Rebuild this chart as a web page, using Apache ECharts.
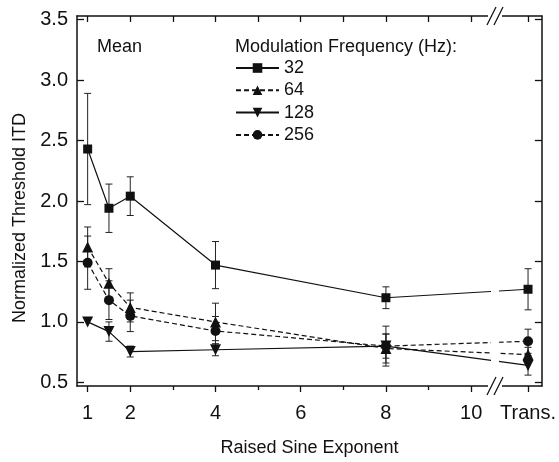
<!DOCTYPE html>
<html>
<head>
<meta charset="utf-8">
<script src="https://cdn.jsdelivr.net/npm/echarts@6/dist/echarts.min.js"></script>
<style>
  html, body { margin: 0; padding: 0; background: #fff; }
  #chart { width: 559px; height: 462px; }
</style>
</head>
<body>
<div id="chart"></div>
<script>
// x position used for the "Trans." condition (after the axis break)
const TRANS = 11.335;
const exponents = [1, 1.5, 2, 4, 8, TRANS];

// tick positions / labels
const xLabelValues = [1, 2, 4, 6, 8, 10, TRANS];
const xMinorValues = [3, 5, 7, 9];
const xTopTickValues = [1, 2, 3, 4, 5, 6, 7, 8, 9, 10, TRANS];
const yTickValues = [0.5, 1.0, 1.5, 2.0, 2.5, 3.0, 3.5];

// means and error bars per modulation frequency
const mean32 = [2.43, 1.94, 2.04, 1.47, 1.20, 1.27];
const err32 = [0.46, 0.20, 0.16, 0.195, 0.09, 0.17];
const mean64 = [1.62, 1.32, 1.12, 1.00, 0.78, 0.73];
const err64 = [0.165, 0.12, 0.12, 0.155, 0.12, 0.06];
const mean128 = [1.00, 0.92, 0.755, 0.77, 0.80, 0.64];
const err128 = [0, 0.08, 0.045, 0.05, 0.10, 0.08];
const mean256 = [1.49, 1.18, 1.05, 0.925, 0.80, 0.84];
const err256 = [0.22, 0.16, 0.13, 0.12, 0.165, 0.10];

const INK = '#111';
const FONT = '"Liberation Sans", Arial, sans-serif';

const groups = [
  { name: '32', mean: mean32, err: err32, symbol: 'rect', size: 9, dashed: false },
  { name: '64', mean: mean64, err: err64, symbol: 'triangle', size: 11, dashed: true },
  { name: '128', mean: mean128, err: err128, symbol: 'path://M0,0 L10,0 L5,9 Z', size: 11, dashed: false },
  { name: '256', mean: mean256, err: err256, symbol: 'circle', size: 10, dashed: true }
];

const chart = echarts.init(document.getElementById('chart'));

const series = [];
groups.forEach(g => {
  // error bars (behind the markers)
  series.push({
    type: 'custom',
    name: 'err' + g.name,
    silent: true,
    z: 2,
    encode: { x: 0, y: [1, 2] },
    data: exponents.map((x, i) => [x, g.mean[i] - g.err[i], g.mean[i] + g.err[i]]),
    renderItem: (params, api) => {
      const x = api.value(0);
      const lo = api.coord([x, api.value(1)]);
      const hi = api.coord([x, api.value(2)]);
      if (Math.abs(hi[1] - lo[1]) < 1) return null;
      const st = { stroke: '#222', lineWidth: 1 };
      return {
        type: 'group',
        children: [
          { type: 'line', shape: { x1: lo[0], y1: lo[1], x2: hi[0], y2: hi[1] }, style: st },
          { type: 'line', shape: { x1: hi[0] - 3.5, y1: hi[1], x2: hi[0] + 3.5, y2: hi[1] }, style: st },
          { type: 'line', shape: { x1: lo[0] - 3.5, y1: lo[1], x2: lo[0] + 3.5, y2: lo[1] }, style: st }
        ]
      };
    }
  });
  series.push({
    type: 'line',
    name: g.name,
    z: 3,
    data: exponents.map((x, i) => [x, g.mean[i]]),
    symbol: g.symbol,
    symbolSize: g.size,
    showAllSymbol: true,
    itemStyle: { color: INK },
    lineStyle: { color: INK, width: 1.2, type: g.dashed ? [5, 3] : 'solid' }
  });
});

const xBase = { type: 'value', min: 0.75, max: 11.66, splitLine: { show: false } };

const option = {
  animation: false,
  backgroundColor: '#fff',
  grid: { left: 77, right: 16, top: 16, bottom: 68 },
  legend: {
    data: groups.map(g => g.name),
    orient: 'vertical',
    left: 235,
    top: 59,
    padding: 0,
    itemWidth: 43,
    itemHeight: 12,
    itemGap: 4.3,
    selectedMode: false,
    textStyle: { fontSize: 18, lineHeight: 18, color: INK, fontFamily: FONT }
  },
  xAxis: [
    Object.assign({}, xBase, {
      position: 'bottom',
      name: 'Raised Sine Exponent',
      nameLocation: 'middle',
      nameGap: 53,
      nameTextStyle: { fontSize: 18, color: INK, fontFamily: FONT },
      axisLine: { lineStyle: { color: INK, width: 1.5 } },
      axisTick: { customValues: xLabelValues, length: 6, lineStyle: { color: INK, width: 1.3 } },
      axisLabel: {
        customValues: xLabelValues,
        margin: 17,
        fontSize: 20,
        color: INK,
        fontFamily: FONT,
        formatter: v => (v > 10.5 ? 'Trans.' : String(v))
      }
    }),
    Object.assign({}, xBase, {
      position: 'bottom',
      axisLine: { show: false },
      axisTick: { customValues: xMinorValues, length: 4, lineStyle: { color: INK, width: 1.3 } },
      axisLabel: { show: false }
    }),
    Object.assign({}, xBase, {
      position: 'top',
      axisLine: { lineStyle: { color: INK, width: 1.5 } },
      axisTick: { customValues: xTopTickValues, inside: true, length: 6, lineStyle: { color: INK, width: 1.3 } },
      axisLabel: { show: false }
    })
  ],
  yAxis: [
    {
      type: 'value',
      position: 'left',
      min: 0.47,
      max: 3.53,
      splitLine: { show: false },
      axisLine: { show: true, lineStyle: { color: INK, width: 1.5 } },
      axisTick: { customValues: yTickValues, inside: true, length: 7, lineStyle: { color: INK, width: 1.3 } },
      axisLabel: {
        customValues: yTickValues,
        margin: 9,
        fontSize: 20,
        color: INK,
        fontFamily: FONT,
        formatter: v => v.toFixed(1)
      }
    },
    {
      type: 'value',
      position: 'right',
      min: 0.47,
      max: 3.53,
      splitLine: { show: false },
      axisLine: { show: true, lineStyle: { color: INK, width: 1.5 } },
      axisTick: { customValues: yTickValues, inside: true, length: 7, lineStyle: { color: INK, width: 1.3 } },
      axisLabel: { show: false }
    }
  ],
  series: series
};

chart.setOption(option);

// axis break decoration and text overlays, placed through the axes
const bx = chart.convertToPixel({ xAxisIndex: 0 }, 10.56);
const yTop = chart.convertToPixel({ yAxisIndex: 0 }, 3.53);
const yBot = chart.convertToPixel({ yAxisIndex: 0 }, 0.47);

const slash = (cx, cy) => [-3.5, 3.5].map(off => ({
  type: 'line',
  z: 101,
  shape: { x1: cx + off - 4.5, y1: cy + 9, x2: cx + off + 4.5, y2: cy - 9 },
  style: { stroke: INK, lineWidth: 1.3 }
}));

chart.setOption({
  graphic: [
    { type: 'rect', z: 100, shape: { x: bx - 4, y: yTop + 2, width: 8, height: yBot - yTop - 4 }, style: { fill: '#fff' } },
    { type: 'rect', z: 100, shape: { x: bx - 7, y: yTop - 2, width: 14, height: 4 }, style: { fill: '#fff' } },
    { type: 'rect', z: 100, shape: { x: bx - 7, y: yBot - 2, width: 14, height: 4 }, style: { fill: '#fff' } },
    ...slash(bx, yTop),
    ...slash(bx, yBot),
    {
      type: 'text', z: 101, x: 97, y: 47,
      style: { text: 'Mean', font: '18px ' + FONT, fill: INK, verticalAlign: 'middle' }
    },
    {
      type: 'text', z: 101, x: 235, y: 47,
      style: { text: 'Modulation Frequency (Hz):', font: '18px ' + FONT, fill: INK, verticalAlign: 'middle' }
    },
    {
      type: 'text', z: 101, x: 20, y: 218, rotation: Math.PI / 2,
      style: { text: 'Normalized Threshold ITD', font: '18px ' + FONT, fill: INK, align: 'center', verticalAlign: 'middle' }
    }
  ]
});
</script>
</body>
</html>
